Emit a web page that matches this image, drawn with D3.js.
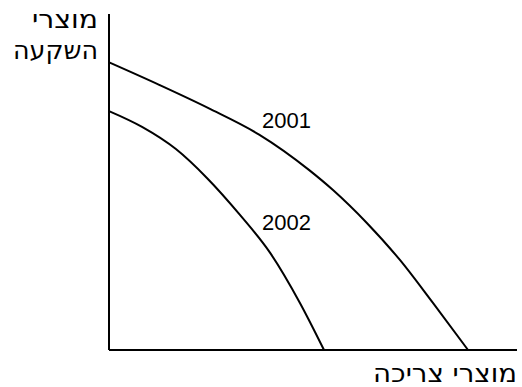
<!DOCTYPE html>
<html>
<head>
<meta charset="utf-8">
<script src="https://cdn.jsdelivr.net/npm/d3@7"></script>
<style>
  body { margin: 0; background: #fff; }
  text { fill: #000; }
  .clabel { font-family: "Liberation Sans", "DejaVu Sans", sans-serif; }
  .htext { font-family: "DejaVu Sans", "Liberation Sans", sans-serif; }
</style>
</head>
<body>
<svg id="chart"></svg>
<script>
// points along each curve (x = consumption, y = investment, 0..100)
let curve2001 = [
  [0, 85.6], [12.3, 78.9], [24.5, 71.9], [36.8, 64.1], [49.0, 53.6],
  [54.9, 47.6], [63.2, 37.8], [71.3, 26.8], [79.4, 14.0], [88.0, 0]
];
let curve2002 = [
  [0, 71.1], [8.1, 66.4], [16.4, 59.8], [24.0, 51.2], [32.1, 40.2],
  [39.5, 28.9], [46.8, 14.0], [52.7, 0]
];
let curveLabels = ["2001", "2002"];
let labelPos = [[37.5, 66], [37.5, 35.8]];
let yTitle = ["מוצרי", "השקעה"];
let yTitleWidth = [66, 85];
let xTitle = "מוצרי צריכה";

let width = 522, height = 387;
let margin = { top: 14, right: 5, bottom: 37, left: 109 };

let svg = d3.select("#chart").attr("width", width).attr("height", height);

let x = d3.scaleLinear().domain([0, 100]).range([margin.left, width - margin.right]);
let y = d3.scaleLinear().domain([0, 100]).range([height - margin.bottom, margin.top]);

// axes: just plain lines, no ticks
svg.append("line")
  .attr("x1", x(0)).attr("x2", x(0))
  .attr("y1", y(100)).attr("y2", y(0))
  .attr("stroke", "#000").attr("stroke-width", 2);
svg.append("line")
  .attr("x1", x(0)).attr("x2", x(100))
  .attr("y1", y(0)).attr("y2", y(0))
  .attr("stroke", "#000").attr("stroke-width", 2);

let line = d3.line()
  .x(d => x(d[0]))
  .y(d => y(d[1]))
  .curve(d3.curveMonotoneX);

[curve2001, curve2002].forEach(c => {
  svg.append("path")
    .datum(c)
    .attr("fill", "none")
    .attr("stroke", "#000")
    .attr("stroke-width", 2)
    .attr("d", line);
});

svg.selectAll(".clabel")
  .data(curveLabels)
  .enter()
  .append("text")
  .attr("class", "clabel")
  .attr("x", (d, i) => x(labelPos[i][0]))
  .attr("y", (d, i) => y(labelPos[i][1]))
  .attr("font-size", "22px")
  .text(d => d);

svg.selectAll(".ytitle")
  .data(yTitle)
  .enter()
  .append("text")
  .attr("class", "ytitle htext")
  .attr("x", x(0) - 11)
  .attr("y", (d, i) => 28 + i * 31)
  .attr("text-anchor", "end")
  .attr("font-size", "25px")
  .attr("textLength", (d, i) => yTitleWidth[i])
  .attr("lengthAdjust", "spacingAndGlyphs")
  .text(d => d);

svg.append("text")
  .attr("class", "htext")
  .attr("x", x(100))
  .attr("y", height - 5)
  .attr("text-anchor", "end")
  .attr("font-size", "25px")
  .attr("textLength", 144)
  .attr("lengthAdjust", "spacingAndGlyphs")
  .text(xTitle);
</script>
</body>
</html>
